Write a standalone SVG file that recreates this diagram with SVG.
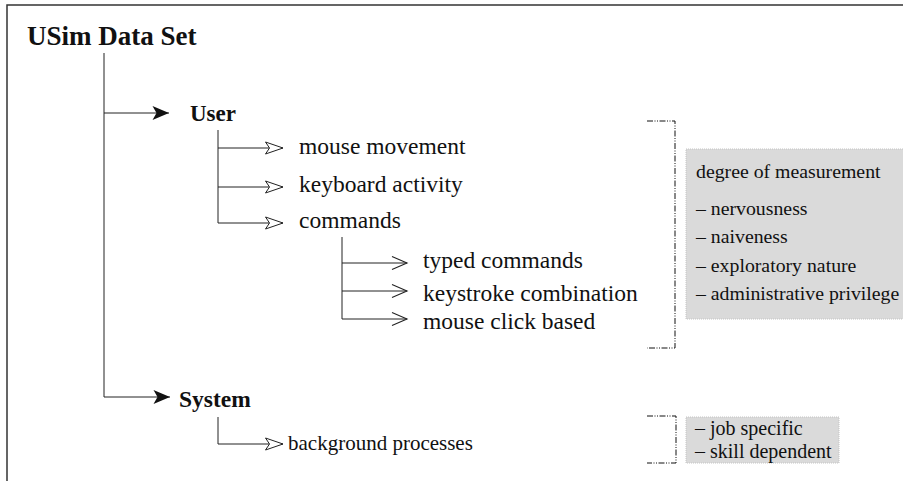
<svg xmlns="http://www.w3.org/2000/svg" width="903" height="481" viewBox="0 0 903 481">
<defs>
<style>
text{font-family:'Liberation Serif','DejaVu Serif','Times New Roman',serif;fill:#111}
.b{font-weight:bold}
.c{fill:none;stroke:#222;stroke-width:1}
.br{fill:none;stroke:#111;stroke-width:1;stroke-dasharray:6,1.5,1,1.5,1,1.5}
.box{fill:#dadada;stroke:#c4c4c4;stroke-width:1;stroke-dasharray:1,1}
</style>
<marker id="fill" markerWidth="19" markerHeight="16" refX="17.5" refY="8" orient="auto" markerUnits="userSpaceOnUse">
<path d="M1,1 L17.5,8 L1,15 L5,8 Z" fill="#111"/>
</marker>
<marker id="open" markerWidth="20" markerHeight="14" refX="18.5" refY="7" orient="auto" markerUnits="userSpaceOnUse">
<path d="M1,1 L18.5,7 L1,13 L5,7 Z" fill="#fff" stroke="#222" stroke-width="1"/>
</marker>
<marker id="chev" markerWidth="18" markerHeight="16" refX="16" refY="8" orient="auto" markerUnits="userSpaceOnUse">
<path d="M1,1.5 L16,8 L1,14.5" fill="none" stroke="#222" stroke-width="1.1"/>
</marker>
</defs>
<rect width="903" height="481" fill="#fff"/>
<g id="frame">
<path d="M7,481 V5 H903" fill="none" stroke="#333" stroke-width="1.5"/>
</g>
<g id="connectors">
<path class="c" d="M104,53 V397"/>
<path class="c" d="M104,113 H169" marker-end="url(#fill)"/>
<path class="c" d="M104,397 H170" marker-end="url(#fill)"/>
<path class="c" d="M218,130 V223"/>
<path class="c" d="M218,148 H283" marker-end="url(#open)"/>
<path class="c" d="M218,187 H283" marker-end="url(#open)"/>
<path class="c" d="M218,223 H283" marker-end="url(#open)"/>
<path class="c" d="M342,237 V319"/>
<path class="c" d="M342,263 H407" marker-end="url(#chev)"/>
<path class="c" d="M342,291 H407" marker-end="url(#chev)"/>
<path class="c" d="M342,319 H407" marker-end="url(#chev)"/>
<path class="c" d="M218,417 V444 H283" marker-end="url(#open)"/>
</g>
<g id="root"><text class="b" x="27" y="45" font-size="27">USim Data Set</text></g>
<g id="user"><text class="b" x="190" y="121" font-size="23">User</text></g>
<g id="system"><text class="b" x="179" y="407" font-size="23.5">System</text></g>
<g id="mouse-movement"><text x="299" y="154" font-size="23.5">mouse movement</text></g>
<g id="keyboard-activity"><text x="299" y="192" font-size="23.5">keyboard activity</text></g>
<g id="commands"><text x="299" y="228" font-size="23.5">commands</text></g>
<g id="typed-commands"><text x="423" y="268" font-size="23.5">typed commands</text></g>
<g id="keystroke-combination"><text x="423" y="301" font-size="23.5">keystroke combination</text></g>
<g id="mouse-click-based"><text x="423" y="329" font-size="23.5">mouse click based</text></g>
<g id="background-processes"><text x="288" y="450" font-size="21">background processes</text></g>
<g id="user-measures">
<path class="br" d="M647,121 H675 V348 H647"/>
<rect class="box" x="686" y="149" width="230" height="170"/>
<text x="696" y="178" font-size="19.8">degree of measurement</text>
<text x="696" y="215" font-size="19.8">– nervousness</text>
<text x="696" y="243" font-size="19.8">– naiveness</text>
<text x="696" y="272" font-size="19.8">– exploratory nature</text>
<text x="696" y="300" font-size="19.8">– administrative privilege</text>
</g>
<g id="system-measures">
<path class="br" d="M647,416 H676 V463 H647"/>
<rect class="box" x="686" y="417" width="153" height="46"/>
<text x="695" y="435" font-size="20">– job specific</text>
<text x="695" y="458" font-size="20">– skill dependent</text>
</g>
</svg>
